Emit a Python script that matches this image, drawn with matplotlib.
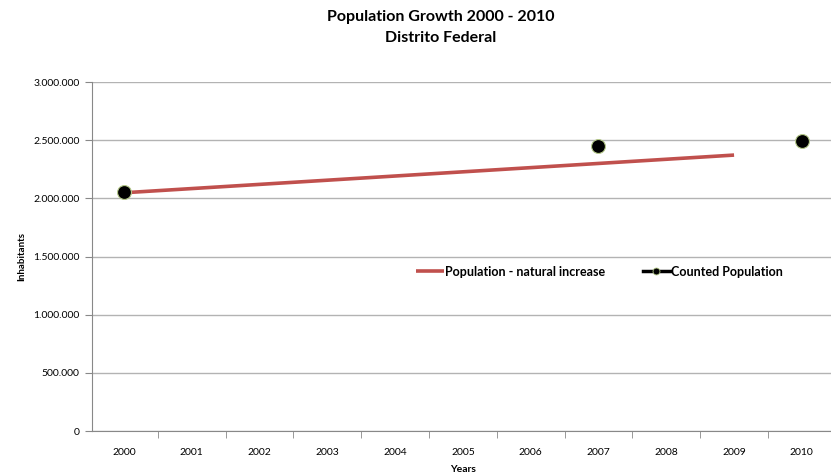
import matplotlib.pyplot as plt
from matplotlib.ticker import FuncFormatter, FixedLocator

plt.rcParams['font.family'] = ['Lato', 'DejaVu Sans']

years = ['2000', '2001', '2002', '2003', '2004', '2005', '2006', '2007', '2008', '2009', '2010']
natural = [2048000, 2084000, 2120000, 2156000, 2192000, 2228000, 2264000, 2300000, 2336000, 2372000]
counted_idx = [0, 7, 10]
counted = [2052000, 2453000, 2494000]

fig = plt.figure(figsize=(8.31, 4.76), dpi=100)
ax = fig.add_axes([0.1107, 0.0945, 0.8893, 0.7332])

x = list(range(len(natural)))
ax.plot(x, natural, color='#c0504d', lw=2.6, solid_capstyle='butt',
        label='Population - natural increase', zorder=3)
ax.plot(counted_idx, counted, color='black', lw=0, marker='o', markersize=10,
        markerfacecolor='black', markeredgecolor='#b5c98a', markeredgewidth=0.8,
        zorder=4)
# legend handle for counted population (line + marker like Excel)
ax.plot([], [], color='black', lw=2.5, marker='o', markersize=5,
        markeredgecolor='#b5c98a', markeredgewidth=0.6, label='Counted Population')

ax.set_xlim(-0.472, 10.43)
ax.set_ylim(0, 3000000)
ax.set_yticks(range(0, 3000001, 500000))
ax.yaxis.set_major_formatter(FuncFormatter(lambda v, p: '0' if v == 0 else f'{int(v):,}'.replace(',', '.')))
ax.set_xticks(range(len(years)))
ax.set_xticklabels(years)
ax.xaxis.set_minor_locator(FixedLocator([i - 0.5 for i in range(len(years) + 1)]))
ax.tick_params(axis='x', which='major', length=0, pad=12, labelsize=7.5)
ax.tick_params(axis='x', which='minor', length=5, color='#888888', direction='out')
ax.tick_params(axis='y', length=5, color='#888888', labelsize=7.5, pad=4)

ax.grid(axis='y', color='#b3b3b3', lw=1)
ax.set_axisbelow(True)
for s in ['top', 'right']:
    ax.spines[s].set_visible(False)
ax.spines['left'].set_color('#888888')
ax.spines['bottom'].set_color('#888888')

ax.set_ylabel('Inhabitants', fontsize=7, fontweight='bold')
ax.yaxis.set_label_coords(-0.089, 0.5)
ax.set_xlabel('Years', fontsize=7.5, fontweight='bold')
ax.xaxis.set_label_coords(0.502, -0.098)

fig.text(0.53, 0.965, 'Population Growth 2000 - 2010', ha='center', va='center',
         fontsize=11.5, fontweight='bold')
fig.text(0.53, 0.92, 'Distrito Federal', ha='center', va='center',
         fontsize=11.5, fontweight='bold')

ax.legend(loc='center', bbox_to_anchor=(0.687, 0.456), ncol=2, frameon=False,
          handlelength=2.2, handletextpad=0.1, columnspacing=3.0,
          prop={'weight': 'bold', 'size': 9})

fig.savefig('out.png', dpi=100)
